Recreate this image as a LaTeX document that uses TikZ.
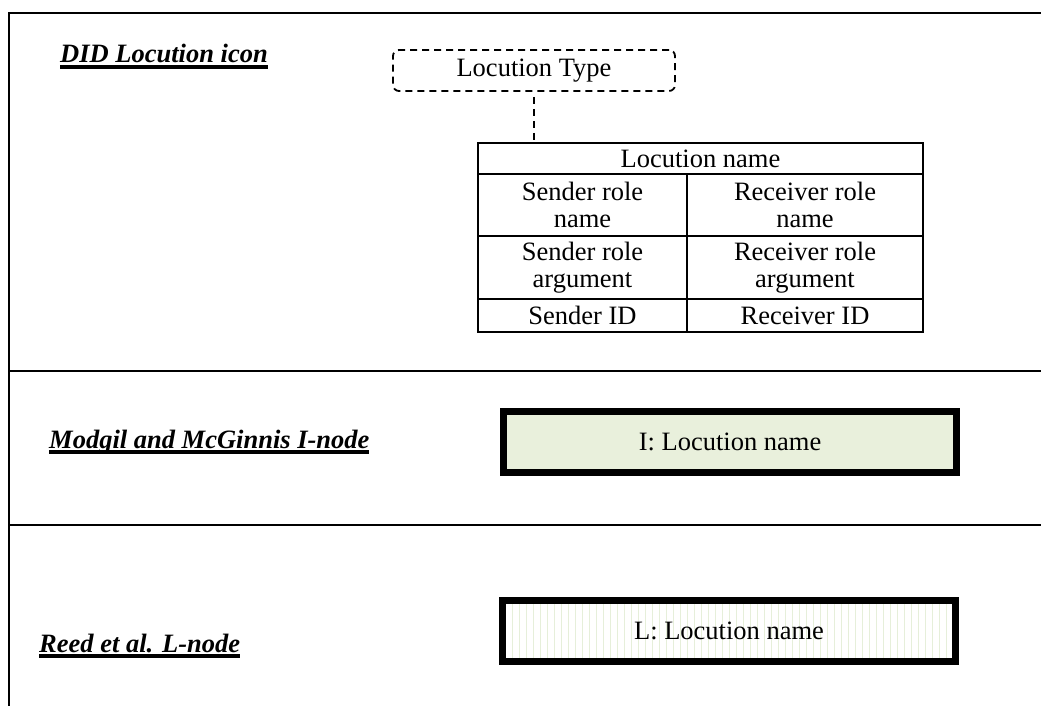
\documentclass[tikz,border=0pt]{standalone}
\usepackage{fontspec}
\setmainfont{Liberation Serif}
\definecolor{inodegreen}{HTML}{E9F0DC}
\definecolor{stripegreen}{HTML}{E6EFDA}
\newcommand\myul[1]{\setbox0=\hbox{#1}\rlap{\rule[-6pt]{\wd0}{4pt}}\box0}
\begin{document}
\begin{tikzpicture}[x=1pt,y=-1pt,
  frame/.style={line width=2.2pt, black},
  titletext/.style={anchor=base west, inner sep=0pt, font=\fontsize{26.5}{30}\selectfont\bfseries\itshape},
  cell/.style={draw, line width=2pt, anchor=north west, inner sep=0pt, align=center, font=\fontsize{26.5}{27.5}\selectfont},
  typebox/.style={draw, dash pattern=on 7pt off 5pt, line width=1.8pt, rounded corners=6pt, minimum width=282pt, minimum height=41pt, inner sep=0pt, font=\fontsize{26.5}{30}\selectfont},
  conn/.style={draw, dash pattern=on 7pt off 5pt, line width=1.8pt},
  nodebox/.style={draw, line width=7pt, minimum width=453pt, minimum height=61pt, inner sep=0pt, font=\fontsize{26.5}{30}\selectfont},
  stripe/.style={line width=1.8pt, stripegreen}
]
\useasboundingbox (0,0) rectangle (1041,706);
% frame
\draw[frame] (1041,13) -- (9,13) -- (9,706);
\draw[frame] (9,371) -- (1041,371);
\draw[frame] (9,525) -- (1041,525);
% titles
\node[titletext] (t1) at (60,63) {\myul{DID Locution icon}};
\node[titletext] (t2) at (49,448) {\myul{Modgil and McGinnis I-node}};
\node[titletext] (t3) at (39,652) {\myul{Reed et al. L-node}};
% locution type
\node[typebox] (type) at (534,70.5) {Locution Type};
% table
\node[cell, minimum width=445pt, minimum height=31pt] (ln) at (477,142) {Locution name};
\node[cell, minimum width=209pt, minimum height=62pt] (srn) at (477,173) {Sender role\\name};
\node[cell, minimum width=236pt, minimum height=62pt] (rrn) at (686,173) {Receiver role\\name};
\node[cell, minimum width=209pt, minimum height=63pt] (sra) at (477,235) {Sender role\\argument};
\node[cell, minimum width=236pt, minimum height=63pt] (rra) at (686,235) {Receiver role\\argument};
\node[cell, minimum width=209pt, minimum height=33pt] (sid) at (477,298) {Sender ID};
\node[cell, minimum width=236pt, minimum height=33pt] (rid) at (686,298) {Receiver ID};
\draw[conn, shorten <=5pt] (type.south) -- (type.south |- ln.north);
% I-node
\node[nodebox, fill=inodegreen] (inode) at (730,442) {I: Locution name};
% L-node
\node[nodebox, fill=white, path picture={
  \foreach \k in {0,...,66}{
    \draw[stripe] ([xshift=\k*7pt+3pt]path picture bounding box.north west) -- ([xshift=\k*7pt+3pt]path picture bounding box.south west);
  }}] (lnode) at (729,631) {L: Locution name};
\end{tikzpicture}
\end{document}
